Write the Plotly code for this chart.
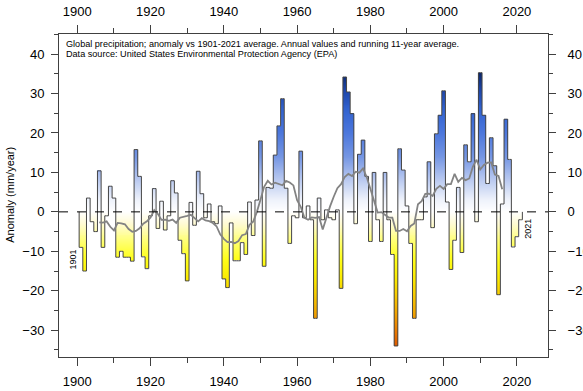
import numpy as np
import pandas as pd
import plotly.graph_objects as go

# ---------------- data ----------------
years = list(range(1901, 2022))
anomaly = [
    -9, -15, 3.5, -2.5, -5, 10.4, -9, -1, 6.5, 3.5,            # 1901-1910
    -11.5, -10, -11.5, -11.5, -12.5, 15.8, 9, -11.4, -14.4, -1,  # 1911-1920
    5.9, -4.2, 2.7, -4.6, -1, 7.9, 4.8, -7.2, -10.6, -17.5,      # 1921-1930
    2.4, -3.4, 10.3, 4.6, -1.5, 2, -2.5, -3, 1.5, -17,           # 1931-1940
    -19.2, -2.8, -12.4, -12.4, -7.8, -10.8, 2.5, -6, 3, 18,      # 1941-1950
    -13.8, 6.2, 6, 14.4, 21.8, 28.7, 6, -8, -1, -1.5,            # 1951-1960
    15.4, -1.5, 1.5, -2, -27, 3.5, -2, 0.5, -1.5, -2,            # 1961-1970
    0.5, -19.4, 34.2, 30.4, 24.9, -3, 14.6, 18.2, 9, -7.5,       # 1971-1980
    10, -2, -7.5, 10, -2, -10.8, -34, 16, 10.6, 1.5,             # 1981-1990
    -8, -27, -2, -2, 3.8, 12.7, -4, 19.8, 24.5, 30.7,            # 1991-2000
    2.5, -14.6, -7.2, 6.2, -10.3, 17, 12.7, 24.9, -2.5, 35.3,    # 2001-2010
    24.5, 7.2, 18.8, 11.7, -21, 2, 23.5, 13.3, -8.9, -6.3,       # 2011-2020
    -2,                                                          # 2021
]
xtick_vals = [1900, 1920, 1940, 1960, 1980, 2000, 2020]
xminor_vals = [1910, 1930, 1950, 1970, 1990, 2010]
ytick_vals = [-30, -20, -10, 0, 10, 20, 30, 40]
title_line1 = "Global precipitation; anomaly vs 1901-2021 average. Annual values and running 11-year average."
title_line2 = "Data source: United States Environmental Protection Agency (EPA)"
ytitle = "Anomaly (mm/year)"

assert len(years) == len(anomaly)

# running 11-year average
running = pd.Series(anomaly).rolling(11, center=True).mean()

# ---------------- styling ----------------
XR = [1895.0, 2028.5]
YR = [-36.8, 45.1]
FONT = "Liberation Sans, Arial, sans-serif"

stops = [(-36, "#d54800"), (-30, "#ea7d00"), (-24, "#f4b400"), (-17, "#fbea00"),
         (-12, "#ffff1a"), (-7, "#ffff80"), (-3, "#fffbd4"), (0, "#ffffff"),
         (3, "#eef2fb"), (8, "#b9c9f0"), (14, "#7596e3"), (20, "#4c77dc"),
         (26, "#3162cf"), (31, "#1d45a8"), (36, "#08215e")]
cmin, cmax = -36, 36
colorscale = [[(v - cmin) / (cmax - cmin), c] for v, c in stops]

# vertical gradient inside every bar: heatmap masked to each bar's extent
ygrid = np.arange(YR[0] + 0.125, YR[1], 0.25)
z = np.full((len(ygrid), len(years)), np.nan)
for i, v in enumerate(anomaly):
    lo, hi = min(0, v), max(0, v)
    mask = (ygrid >= lo) & (ygrid <= hi)
    z[mask, i] = ygrid[mask]

# step outline of the annual bars (histogram style), derived from the data
step_x = [years[0] - 0.5, years[0] - 0.5] + years + [years[-1] + 0.5, years[-1] + 0.5]
step_y = [0, anomaly[0]] + anomaly + [anomaly[-1], 0]

fig = go.Figure()
fig.add_trace(go.Heatmap(x=years, y=ygrid, z=z, colorscale=colorscale,
                         zmin=cmin, zmax=cmax, showscale=False,
                         hoverinfo="skip", zsmooth=False))
fig.add_trace(go.Scatter(x=step_x, y=step_y, mode="lines",
                         line=dict(color="#454545", width=1, shape="hvh"),
                         showlegend=False, hoverinfo="skip"))
fig.add_trace(go.Scatter(x=years, y=running, mode="lines",
                         line=dict(color="#838383", width=1.8), showlegend=False))
# invisible trace for the mirrored axes
fig.add_trace(go.Scatter(x=[XR[0]], y=[0], xaxis="x2", yaxis="y2",
                         mode="markers", marker=dict(opacity=0), showlegend=False,
                         hoverinfo="skip"))

fig.add_shape(type="line", xref="paper", x0=0, x1=1, yref="y", y0=0, y1=0,
              line=dict(color="black", width=1, dash="dash"))

axis_common = dict(showline=True, linecolor="#404040", linewidth=1, ticks="outside",
                   tickcolor="#404040", showgrid=False, zeroline=False,
                   tickfont=dict(family=FONT, size=13, color="black"))

fig.update_layout(
    width=583, height=391,
    margin=dict(l=58.5, r=35.3, t=33.7, b=34, autoexpand=False),
    paper_bgcolor="white", plot_bgcolor="white",
    showlegend=False,
    xaxis=dict(range=XR, tickvals=xtick_vals, ticklen=8,
               minor=dict(tickvals=xminor_vals, ticklen=5, ticks="outside",
                          tickcolor="#404040"),
               ticklabelstandoff=4, **axis_common),
    xaxis2=dict(range=XR, tickvals=xtick_vals, ticklen=8, overlaying="x", side="top",
                anchor="y",
                minor=dict(tickvals=xminor_vals, ticklen=5, ticks="outside",
                           tickcolor="#404040"),
                ticklabelstandoff=4, **axis_common),
    yaxis=dict(range=YR, tickvals=ytick_vals, ticklen=7,
               minor=dict(dtick=5, tick0=0, ticklen=4, ticks="outside", tickcolor="#404040"),
               ticklabelstandoff=4, **axis_common),
    yaxis2=dict(range=YR, tickvals=ytick_vals, ticklen=7, overlaying="y", side="right",
                anchor="x",
                minor=dict(dtick=5, tick0=0, ticklen=4, ticks="outside", tickcolor="#404040"),
                ticklabelstandoff=9, **axis_common),
    annotations=[
        dict(text=title_line1, xref="paper", yref="paper", x=0.0102, y=0.968,
             xanchor="left", yanchor="middle", showarrow=False,
             font=dict(family=FONT, size=9.1, color="black")),
        dict(text=title_line2, xref="paper", yref="paper", x=0.0102, y=0.939,
             xanchor="left", yanchor="middle", showarrow=False,
             font=dict(family=FONT, size=9.1, color="black")),
        dict(text=str(years[0]), x=1898.7, y=-12.2, xref="x", yref="y",
             textangle=-90, showarrow=False,
             font=dict(family=FONT, size=9, color="black")),
        dict(text=str(years[-1]), x=2023.2, y=-4.4, xref="x", yref="y",
             textangle=-90, showarrow=False,
             font=dict(family=FONT, size=9, color="black")),
        dict(text=ytitle, xref="paper", yref="paper", x=-0.099, y=0.501,
             textangle=-90, showarrow=False, xanchor="center", yanchor="middle",
             font=dict(family=FONT, size=11, color="black")),
    ],
)

# remove the browser's default 8px body margin so the figure fills the window
fig.write_html("out.html", config={"displayModeBar": False},
               post_script="document.body.style.margin='0';")
